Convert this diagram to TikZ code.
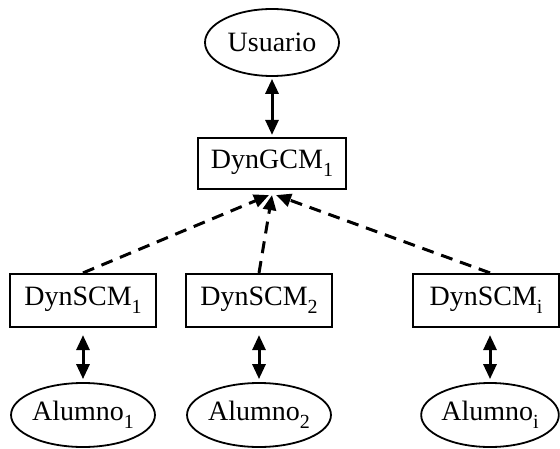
\documentclass[tikz,border=0pt]{standalone}
\usepackage{fontspec}
\setmainfont{Liberation Serif}
\usetikzlibrary{arrows.meta,shapes.geometric}
\newcommand{\sbs}[1]{\raisebox{-0.3em}{\fontsize{10}{10}\selectfont #1}}
\begin{document}
\begin{tikzpicture}[x=0.5pt,y=-0.5pt,
  every node/.style={font=\fontsize{14}{16}\selectfont, inner sep=0pt},
  elli/.style={draw, ellipse, line width=0.9pt},
  boxx/.style={draw, rectangle, line width=1.1pt, minimum width=73pt, minimum height=26.5pt},
  biarrow/.style={line width=1.5pt, {Triangle[length=7.5pt,width=6.5pt]}-{Triangle[length=7.5pt,width=6.5pt]}},
  dasharrow/.style={line width=1.5pt, dash pattern=on 6pt off 4pt, -{Triangle[length=7.5pt,width=6.5pt]}}]
\useasboundingbox (0,0) rectangle (560,448);
% nodes
\node[elli, minimum width=67pt, minimum height=33.5pt] (u) at (272,42.5) {Usuario};
\node[boxx, minimum width=74pt, minimum height=25.5pt] (g) at (272,163.5) {DynGCM\sbs{1}};
\node[boxx] (s1) at (83,300.5) {DynSCM\sbs{1}};
\node[boxx] (s2) at (259,300.5) {DynSCM\sbs{2}};
\node[boxx] (si) at (486,300.5) {DynSCM\sbs{i}};
\node[elli, minimum width=65.5pt, minimum height=32pt] (a1) at (83,415) {Alumno\sbs{1}};
\node[elli, minimum width=66pt, minimum height=32pt] (a2) at (259,415) {Alumno\sbs{2}};
\node[elli, minimum width=68pt, minimum height=32pt] (ai) at (490,415) {Alumno\sbs{i}};
% connectors
\draw[biarrow, shorten <=1pt, shorten >=1pt] (u) -- (g);
\draw[biarrow, shorten <=3.5pt, shorten >=1.5pt] (s1) -- (a1);
\draw[biarrow, shorten <=3.5pt, shorten >=1.5pt] (s2) -- (a2);
\draw[biarrow, shorten <=3.5pt, shorten >=1.5pt] (ai.north |- si.south) -- (ai.north);
\coordinate (gt) at ([yshift=-2.5pt]g.south);
\coordinate (gl) at ([xshift=-1.5pt]gt);
\coordinate (gr) at ([xshift=2pt]gt);
\draw[dasharrow] (s1.north) -- (gl);
\draw[dasharrow] (s2.north) -- (gt);
\draw[dasharrow] ([xshift=2pt]si.north) -- (gr);
\end{tikzpicture}
\end{document}
